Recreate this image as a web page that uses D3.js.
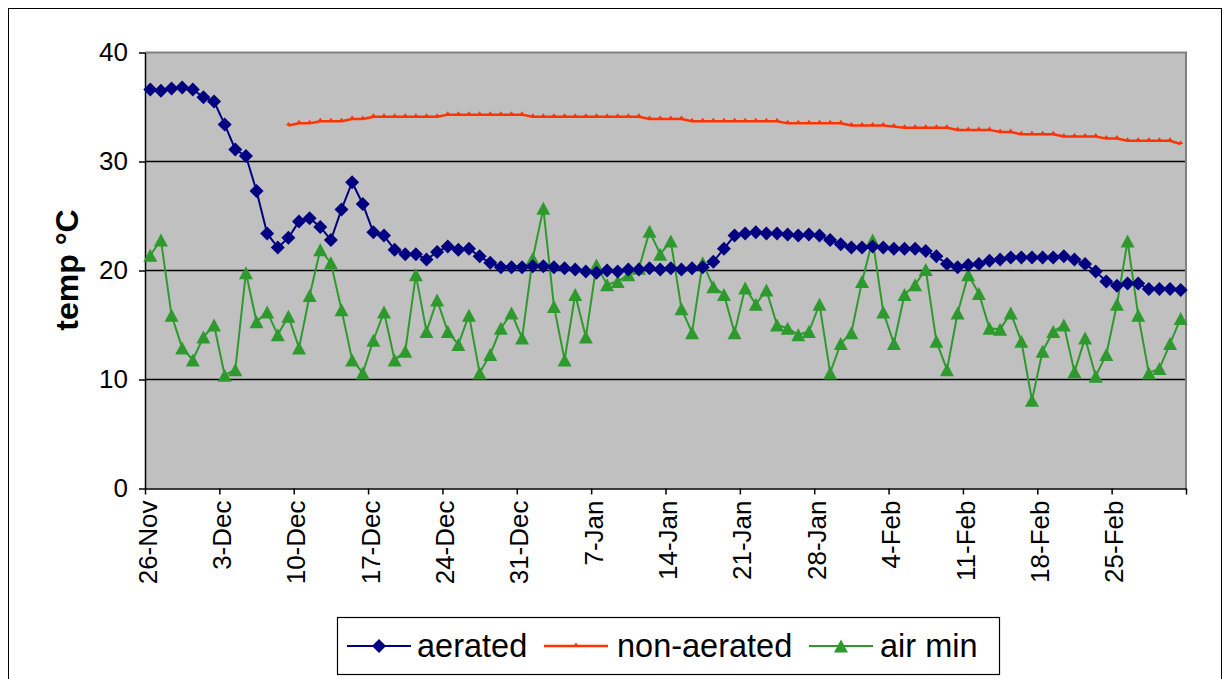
<!DOCTYPE html>
<html>
<head>
<meta charset="utf-8">
<script src="https://cdn.jsdelivr.net/npm/d3@7"></script>
<style>
  html, body { margin: 0; padding: 0; background: #fff; }
  svg { display: block; font-family: "Liberation Sans", Arial, sans-serif; }
</style>
</head>
<body>
<svg id="chart" width="1225" height="679"></svg>
<script>
// Daily readings starting 26 Nov
const startDate = new Date(Date.UTC(2006, 10, 26));
const axisDays = 98;

const aerated = [
  36.6,36.5,36.7,36.8,36.6,35.9,35.5,33.4,31.1,30.5,
  27.3,23.4,22.1,23.0,24.5,24.8,24.0,22.8,25.6,28.1,
  26.1,23.5,23.2,21.9,21.5,21.5,21.0,21.7,22.2,21.9,
  22.0,21.3,20.7,20.3,20.3,20.3,20.4,20.4,20.3,20.2,
  20.1,19.9,19.8,20.0,19.9,20.1,20.1,20.2,20.1,20.2,
  20.1,20.2,20.3,20.8,22.0,23.2,23.4,23.5,23.4,23.4,
  23.3,23.2,23.3,23.2,22.8,22.4,22.1,22.1,22.2,22.1,
  22.0,22.0,22.0,21.8,21.3,20.6,20.3,20.5,20.6,20.9,
  21.0,21.2,21.2,21.2,21.2,21.2,21.3,21.0,20.6,19.9,
  19.0,18.6,18.8,18.8,18.3,18.3,18.3,18.2
];

// non-aerated pile readings begin on 9 Dec (day 13)
const nonAeratedStart = 13;
const nonAerated = [
  33.3,33.5,33.5,33.7,33.7,33.7,33.9,33.9,34.1,34.1,
  34.1,34.1,34.1,34.1,34.1,34.3,34.3,34.3,34.3,34.3,
  34.3,34.3,34.3,34.1,34.1,34.1,34.1,34.1,34.1,34.1,
  34.1,34.1,34.1,34.1,33.9,33.9,33.9,33.9,33.7,33.7,
  33.7,33.7,33.7,33.7,33.7,33.7,33.7,33.5,33.5,33.5,
  33.5,33.5,33.5,33.3,33.3,33.3,33.3,33.2,33.1,33.1,
  33.1,33.1,33.1,32.9,32.9,32.9,32.9,32.7,32.7,32.5,
  32.5,32.5,32.5,32.3,32.3,32.3,32.3,32.1,32.1,31.9,
  31.9,31.9,31.9,31.9,31.6
];

const airMin = [
  21.4,22.8,15.9,12.9,11.8,13.9,15.0,10.4,10.9,19.8,
  15.3,16.2,14.1,15.8,12.9,17.7,21.9,20.7,16.4,11.8,
  10.6,13.6,16.2,11.8,12.6,19.6,14.4,17.3,14.4,13.2,
  15.9,10.6,12.3,14.7,16.1,13.8,21.1,25.7,16.7,11.8,
  17.8,13.9,20.5,18.7,19.0,19.6,20.2,23.6,21.5,22.7,
  16.5,14.3,20.7,18.5,17.8,14.3,18.4,16.9,18.2,15.0,
  14.7,14.1,14.4,16.9,10.6,13.3,14.3,19.0,22.8,16.2,
  13.3,17.8,18.7,20.1,13.5,10.9,16.1,19.6,17.9,14.7,
  14.6,16.1,13.5,8.1,12.6,14.4,15.0,10.7,13.8,10.3,
  12.3,16.9,22.7,15.9,10.6,11.0,13.3,15.6
];

const yTicks = [0, 10, 20, 30, 40];
const seriesNames = ["aerated", "non-aerated", "air min"];
const seriesColors = ["#000080", "#ff3300", "#2e9a2e"];

const plot = { left: 145, right: 1186, top: 52.5, bottom: 488.5 };

const svg = d3.select("#chart");

// chart area frame
svg.append("rect")
  .attr("x", 8.5).attr("y", 8.5)
  .attr("width", 1213).attr("height", 690)
  .attr("fill", "#fff").attr("stroke", "#000").attr("stroke-width", 1);

const dayAt = i => d3.utcHour.offset(d3.utcDay.offset(startDate, i), 12);

const x = d3.scaleUtc()
  .domain([startDate, d3.utcDay.offset(startDate, axisDays)])
  .range([plot.left, plot.right]);

const y = d3.scaleLinear()
  .domain([0, 40])
  .range([plot.bottom, plot.top]);

// plot area
svg.append("rect")
  .attr("x", plot.left).attr("y", plot.top)
  .attr("width", plot.right - plot.left).attr("height", plot.bottom - plot.top)
  .attr("fill", "#c0c0c0");

// horizontal gridlines
svg.append("g").selectAll("line")
  .data(yTicks.filter(t => t > 0 && t < 40))
  .join("line")
  .attr("x1", plot.left).attr("x2", plot.right)
  .attr("y1", d => y(d)).attr("y2", d => y(d))
  .attr("stroke", "#000").attr("stroke-width", 1.3);

// plot area border
svg.append("path")
  .attr("d", `M${plot.left},${plot.top}H${plot.right}V${plot.bottom}`)
  .attr("fill", "none").attr("stroke", "#808080").attr("stroke-width", 2);

// y axis
const yAxis = svg.append("g")
  .attr("transform", `translate(${plot.left},0)`)
  .call(d3.axisLeft(y).tickValues(yTicks).tickSize(6).tickPadding(11).tickSizeOuter(0));
yAxis.select(".domain").attr("stroke", "#000").attr("stroke-width", 1.5);
yAxis.selectAll(".tick line").attr("stroke", "#000").attr("stroke-width", 1.5);
yAxis.selectAll("text").attr("font-size", 26).attr("fill", "#000")
  .attr("font-family", "'Liberation Sans', Arial, sans-serif");

// x axis: weekly ticks from the first day
const xTickDates = d3.range(0, axisDays + 1, 7).map(d => d3.utcDay.offset(startDate, d));
const fmt = d3.utcFormat("%-d-%b");
const xAxis = svg.append("g")
  .attr("transform", `translate(0,${plot.bottom})`)
  .call(d3.axisBottom(x).tickValues(xTickDates).tickSize(6).tickSizeOuter(0)
    .tickFormat((d, i) => i < xTickDates.length - 1 ? fmt(d) : ""));
xAxis.select(".domain").attr("stroke", "#000").attr("stroke-width", 1.5);
xAxis.selectAll(".tick line").attr("stroke", "#000").attr("stroke-width", 1.5);
xAxis.selectAll("text")
  .attr("font-size", 26).attr("fill", "#000")
  .attr("font-family", "'Liberation Sans', Arial, sans-serif")
  .attr("transform", "rotate(-90)")
  .attr("text-anchor", "end")
  .attr("x", -12).attr("y", 2).attr("dy", "0.35em");

// y axis title
svg.append("text")
  .attr("transform", "translate(78,270) rotate(-90)")
  .attr("text-anchor", "middle")
  .attr("font-size", 32).attr("font-weight", "bold")
  .text("temp °C");

// marker shapes
const diamond = (cx, cy, r) => `M${cx},${cy - r}L${cx + r},${cy}L${cx},${cy + r}L${cx - r},${cy}Z`;
const triangle = (cx, cy, w, h) => `M${cx},${cy - h / 2}L${cx + w / 2},${cy + h / 2}L${cx - w / 2},${cy + h / 2}Z`;
const smallTick = (cx, cy) => `M${cx - 2.5},${cy}L${cx},${cy - 3.5}L${cx + 2.5},${cy}Z`;

const line = d3.line().x(d => x(d.date)).y(d => y(d.v));

const aeratedPts = aerated.map((v, i) => ({ date: dayAt(i), v }));
const nonAeratedPts = nonAerated.map((v, i) => ({ date: dayAt(i + nonAeratedStart), v }));
const airMinPts = airMin.map((v, i) => ({ date: dayAt(i), v }));

// air min
svg.append("path").datum(airMinPts)
  .attr("d", line).attr("fill", "none")
  .attr("stroke", seriesColors[2]).attr("stroke-width", 2);
svg.append("g").selectAll("path").data(airMinPts).join("path")
  .attr("d", d => triangle(x(d.date), y(d.v), 14, 13))
  .attr("fill", seriesColors[2]);

// non-aerated
svg.append("path").datum(nonAeratedPts)
  .attr("d", line).attr("fill", "none")
  .attr("stroke", seriesColors[1]).attr("stroke-width", 2.5);
svg.append("g").selectAll("path").data(nonAeratedPts).join("path")
  .attr("d", d => smallTick(x(d.date), y(d.v)))
  .attr("fill", seriesColors[1]);

// aerated
svg.append("path").datum(aeratedPts)
  .attr("d", line).attr("fill", "none")
  .attr("stroke", seriesColors[0]).attr("stroke-width", 2);
svg.append("g").selectAll("path").data(aeratedPts).join("path")
  .attr("d", d => diamond(x(d.date), y(d.v), 7))
  .attr("fill", seriesColors[0]);

// legend
const legend = svg.append("g");
legend.append("rect")
  .attr("x", 337.5).attr("y", 617.5).attr("width", 662).attr("height", 57)
  .attr("fill", "#fff").attr("stroke", "#000").attr("stroke-width", 1.2);
const legendItems = [
  { x: 347, textX: 417, marker: (cx, cy) => diamond(cx, cy, 7) },
  { x: 544, textX: 617, marker: (cx, cy) => smallTick(cx, cy) },
  { x: 809, textX: 880, marker: (cx, cy) => triangle(cx, cy, 14, 13) }
];
legendItems.forEach((it, i) => {
  const cy = 646;
  legend.append("line")
    .attr("x1", it.x).attr("x2", it.x + 64).attr("y1", cy).attr("y2", cy)
    .attr("stroke", seriesColors[i]).attr("stroke-width", i === 1 ? 2.5 : 2);
  legend.append("path").attr("d", it.marker(it.x + 32, cy)).attr("fill", seriesColors[i]);
  legend.append("text")
    .attr("x", it.textX).attr("y", cy).attr("dy", "0.35em")
    .attr("font-size", 32.5).attr("fill", "#000")
    .text(seriesNames[i]);
});
</script>
</body>
</html>
